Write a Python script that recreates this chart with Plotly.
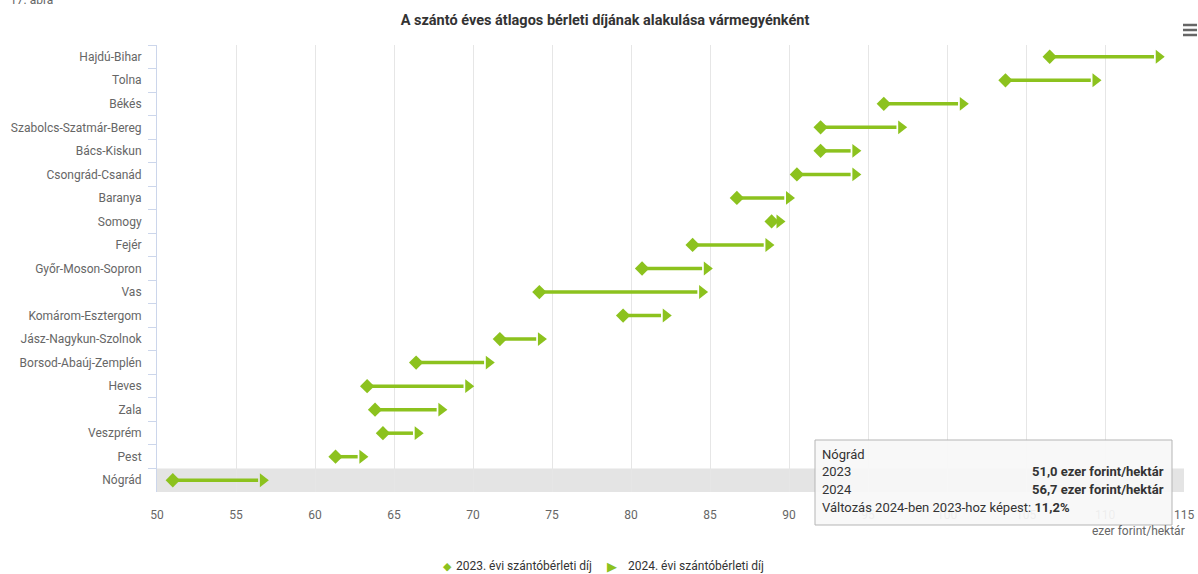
import plotly.graph_objects as go

counties = ["Hajdú-Bihar", "Tolna", "Békés", "Szabolcs-Szatmár-Bereg", "Bács-Kiskun",
            "Csongrád-Csanád", "Baranya", "Somogy", "Fejér", "Győr-Moson-Sopron", "Vas",
            "Komárom-Esztergom", "Jász-Nagykun-Szolnok", "Borsod-Abaúj-Zemplén", "Heves",
            "Zala", "Veszprém", "Pest", "Nógrád"]
fee_2023 = [106.5, 103.7, 96.0, 92.0, 92.0, 90.5, 86.7, 88.9, 83.9, 80.7, 74.2,
            79.5, 71.7, 66.4, 63.3, 63.8, 64.3, 61.3, 51.0]
fee_2024 = [113.4, 109.4, 101.0, 97.1, 94.2, 94.2, 90.0, 89.4, 88.7, 84.8, 84.5,
            82.2, 74.3, 71.0, 69.7, 68.0, 66.5, 63.0, 56.7]
x_ticks = [50, 55, 60, 65, 70, 75, 80, 85, 90, 95, 100, 105, 110, 115]
legend_labels = ["2023. évi szántóbérleti díj", "2024. évi szántóbérleti díj"]

GREEN = "#8cc21e"
FONT = "Roboto"
W, H = 1198, 574
L, R, T, B = 157, 1184, 45, 492


def px(x):
    return (x - L) / (R - L)


def py(y):
    return (B - y) / (B - T)


fig = go.Figure()

# connecting lines
lx, ly = [], []
for c, a, b in zip(counties, fee_2023, fee_2024):
    lx += [a, b - 0.3, None]
    ly += [c, c, None]
fig.add_trace(go.Scatter(x=lx, y=ly, mode="lines", line=dict(color=GREEN, width=3.5),
                         showlegend=False, hoverinfo="skip"))
fig.add_trace(go.Scatter(x=fee_2023, y=counties, mode="markers", name=legend_labels[0],
                         marker=dict(symbol="diamond", size=11, color=GREEN), hoverinfo="skip"))
fig.add_trace(go.Scatter(x=fee_2024, y=counties, mode="markers", name=legend_labels[1],
                         marker=dict(symbol="triangle-right", size=12, color=GREEN), hoverinfo="skip"))

# hover band for Nógrád
fig.add_shape(type="rect", xref="x", yref="y", x0=50, x1=115, y0=17.5, y1=18.5,
              fillcolor="#e4e4e4", line=dict(width=0), layer="below")

# tooltip box
fig.add_shape(type="rect", xref="paper", yref="paper", x0=px(815), x1=px(1172),
              y0=py(525), y1=py(440), fillcolor="rgba(247,247,247,0.93)",
              line=dict(color="#b5b5b5", width=1), layer="above")

# hamburger menu icon
for yy in (25, 30, 35):
    fig.add_shape(type="line", xref="paper", yref="paper", x0=px(1183), x1=px(1197),
                  y0=py(yy), y1=py(yy), line=dict(color="#666", width=2.5))

ann = []
def text(x, y, s, size=13, color="#333", xanchor="left", bold=False):
    ann.append(dict(xref="paper", yref="paper", x=px(x), y=py(y), text=(f"<b>{s}</b>" if bold else s),
                    showarrow=False, xanchor=xanchor, yanchor="middle",
                    font=dict(family=FONT, size=size, color=color)))

text(820, 454, "Nógrád")
text(820, 471, "2023")
text(1166, 471, "51,0 ezer forint/hektár", xanchor="right", bold=True)
text(820, 489, "2024")
text(1166, 489, "56,7 ezer forint/hektár", xanchor="right", bold=True)
text(820, 507, "Változás 2024-ben 2023-hoz képest: <b>11,2%</b>")
text(1187, 531, "ezer forint/hektár", size=12, color="#666", xanchor="right")
text(8, 0, "17. ábra", size=12, color="#666")

# legend as text
text(441, 566, "◆", size=11, color=GREEN)
text(454, 566, legend_labels[0], size=12, color="#333")
text(605, 566, "▶", size=13, color=GREEN)
text(626, 566, legend_labels[1], size=12, color="#333")

fig.update_layout(
    width=W, height=H,
    margin=dict(l=L, r=W - R, t=T, b=H - B, autoexpand=False),
    paper_bgcolor="white", plot_bgcolor="white",
    font=dict(family=FONT, size=12, color="#666"),
    showlegend=False,
    title=dict(text="<b>A szántó éves átlagos bérleti díjának alakulása vármegyénként</b>",
               x=605 / W, xanchor="center", y=1 - 20 / H, yanchor="middle",
               font=dict(family=FONT, size=14.5, color="#333")),
    xaxis=dict(range=[50, 115], tickvals=x_ticks, ticktext=[str(v) for v in x_ticks],
               showgrid=True, gridcolor="#e6e6e6", gridwidth=1, zeroline=False,
               showline=False, ticks="", ticklabelstandoff=14, automargin=False,
               tickfont=dict(size=12, color="#666")),
    yaxis=dict(type="category", categoryorder="array", categoryarray=counties,
               range=[18.5, -0.5], showgrid=False, showline=True, linecolor="#ccd6eb",
               ticks="outside", ticklen=8, tickcolor="#ccd6eb", tickson="boundaries",
               ticklabelstandoff=12, automargin=False, tickfont=dict(size=12, color="#666")),
    annotations=ann,
)

fig.write_html("out.html", config={"displayModeBar": False})
